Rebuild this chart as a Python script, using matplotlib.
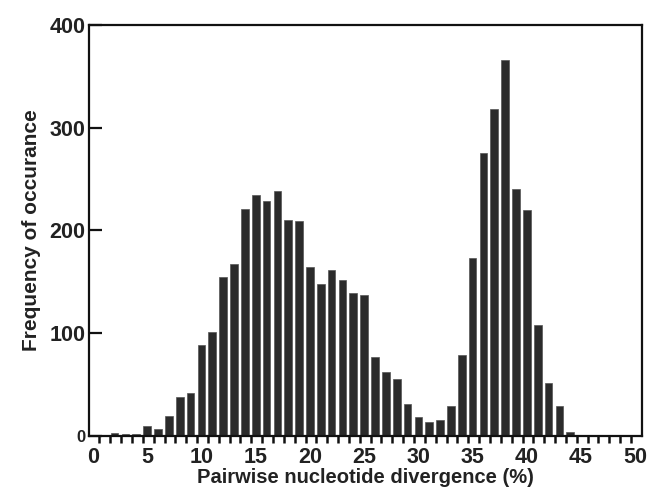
import matplotlib
matplotlib.use("Agg")
import matplotlib.pyplot as plt
import numpy as np

divergence = list(range(1, 51))
frequency = [0, 3, 2, 2, 10, 7, 20, 38, 42, 89,
             101, 155, 167, 221, 234, 229, 238, 210, 209, 164,
             148, 162, 152, 139, 137, 77, 62, 56, 31, 19,
             14, 16, 29, 79, 173, 275, 318, 366, 240, 220,
             108, 52, 29, 4, 1, 1, 1, 1, 1, 0]
x_labels = [0, 5, 10, 15, 20, 25, 30, 35, 40, 45, 50]
y_labels = [0, 100, 200, 300, 400]

plt.rcParams['font.family'] = ['Liberation Sans', 'DejaVu Sans']
plt.rcParams['font.weight'] = 'bold'

fig = plt.figure(figsize=(6.49, 4.94), dpi=100)
ax = fig.add_axes([0.137, 0.117, 0.852, 0.833])

ax.bar(divergence, frequency, width=0.71, color='#2b2b2b',
       edgecolor='#555555', linewidth=0.5)

ax.set_xlim(-0.37, 50.6)
ax.set_ylim(0, 400)

for s in ax.spines.values():
    s.set_linewidth(1.6)
    s.set_color('#111111')

ax.set_xticks(x_labels)
ax.set_xticklabels([str(v) for v in x_labels], fontsize=15.5, fontweight='bold', color='#222222')
ax.tick_params(axis='x', which='major', length=0, pad=8)
ax.set_xticks([k + 0.6 for k in range(50)], minor=True)
ax.tick_params(axis='x', which='minor', direction='out', length=5, width=1.8, color='#111111')

ax.set_yticks(y_labels)
ax.set_yticklabels([str(v) for v in y_labels], fontsize=15.5, fontweight='bold', color='#222222')
ax.tick_params(axis='y', which='major', direction='in', length=9, width=1.6, pad=2.5, color='#111111')
ax.get_yticklabels()[0].set_fontsize(12)

ax.set_xlabel('Pairwise nucleotide divergence (%)', fontsize=14.5, fontweight='bold', color='#222222', labelpad=0)
ax.set_ylabel('Frequency of occurance', fontsize=15, fontweight='bold', color='#222222', labelpad=6)

fig.savefig('out.png', dpi=100)
